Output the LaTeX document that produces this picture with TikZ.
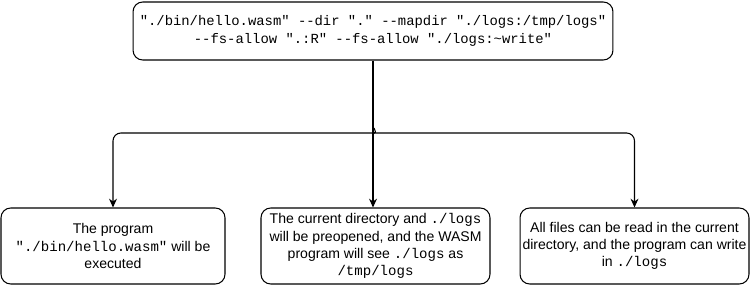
\documentclass[tikz,border=0pt]{standalone}
\usepackage{fontspec}
\setmainfont{Liberation Sans}
\setmonofont{Liberation Mono}
\usetikzlibrary{arrows.meta}

\tikzset{
    box/.style={draw, semithick, rounded corners=5.5pt, align=center, inner sep=1pt},
    link/.style={semithick, -{Stealth[length=5pt, width=4.5pt]}}
}

\begin{document}
\begin{tikzpicture}[x=0.02cm, y=-0.02cm, font=\fontsize{8}{9.8}\selectfont]
        \useasboundingbox (0, 0) rectangle (751, 286);
        % command line on top
        \node[box, minimum width=9.6cm, minimum height=1.16cm,
              font=\fontsize{7.9}{10.2}\selectfont\ttfamily] (cmd) at (373, 31)
            {"./bin/hello.wasm" --dir "." --mapdir "./logs:/tmp/logs"\\
             --fs-allow ".:R" --fs-allow "./logs:\textasciitilde write"};
        % what each part means
        \node[box, minimum width=4.48cm, minimum height=1.52cm] (prog) at (113, 246)
            {The program\\ \texttt{"./bin/hello.wasm"} will be\\ executed};
        \node[box, minimum width=4.58cm, minimum height=1.52cm] (preopen) at (375.5, 246)
            {The current directory and \texttt{./logs}\\ will be preopened, and the WASM\\
             program will see \texttt{./logs} as\\ \texttt{/tmp/logs}};
        \node[box, minimum width=4.58cm, minimum height=1.52cm] (perm) at (634.5, 246)
            {All files can be read in the current\\ directory, and the program can write\\
             in \texttt{./logs}};
        % brace splitting into three
        \coordinate (fork) at (374, 128);
        \coordinate (bar) at (0, 133);
        \draw[link] (cmd.south) -- (cmd.south |- preopen.north);
        \draw[link, rounded corners=4.5pt] (fork) .. controls (373, 131) and (371, 133) .. (367, 133)
            -- (prog.north |- bar) -- (prog.north);
        \draw[link, rounded corners=4.5pt] (fork) .. controls (375, 131) and (377, 133) .. (381, 133)
            -- (perm.north |- bar) -- (perm.north);
    \end{tikzpicture}
\end{document}
